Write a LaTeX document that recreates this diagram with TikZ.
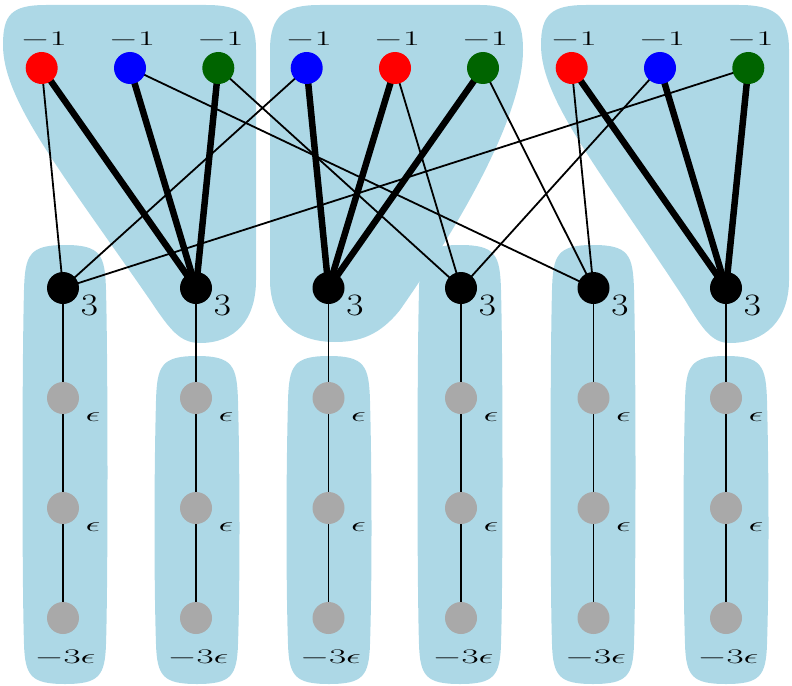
\documentclass[tikz,border=0pt]{standalone}
\usepackage{graphicx}
\usetikzlibrary{calc}
\definecolor{blobblue}{RGB}{173,216,230}
\definecolor{dgreen}{RGB}{0,100,0}
\definecolor{grayn}{RGB}{169,169,169}
\pgfdeclarelayer{bg}
\pgfdeclarelayer{edges}
\pgfsetlayers{bg,edges,main}
\newcommand\smlab[1]{\scalebox{1.8}[1]{\fontsize{20}{24}\selectfont$#1$}}
\newcommand\biglab[1]{\scalebox{1.8}[1.5]{\fontsize{20}{24}\selectfont$#1$}}
\newcommand\tailblob[3]{%
  \begin{scope}[shift={(#1,0)}]
  \fill[blobblue] (0,#2) .. controls (-36,#2) and (-40,{#2+10}) .. (-41,{#2+45})
    .. controls (-43,{#2+120}) and (-43,{#3-100}) .. (-41,{#3-40})
    .. controls (-40,{#3-8}) and (-34,#3) .. (0,#3)
    .. controls (34,#3) and (40,{#3-8}) .. (41,{#3-40})
    .. controls (43,{#3-100}) and (43,{#2+120}) .. (41,{#2+45})
    .. controls (40,{#2+10}) and (36,#2) .. (0,#2) -- cycle;
  \end{scope}}
\begin{document}
\begin{tikzpicture}[x=1pt,y=-1pt,
  vtx/.style={circle,inner sep=0pt,minimum size=32pt},
  heavy/.style={line width=6.5pt},
  light/.style={line width=1.8pt},
  lab/.style={inner sep=0pt}]
\useasboundingbox (0,0) rectangle (792,685);

% top vertices
\node[vtx,fill=red]    (r1) at (41.7,68) {};
\node[vtx,fill=blue]   (b1) at (130,68) {};
\node[vtx,fill=dgreen] (g1) at (218.3,68) {};
\node[vtx,fill=blue]   (b2) at (306.7,68) {};
\node[vtx,fill=red]    (r2) at (395,68) {};
\node[vtx,fill=dgreen] (g2) at (483,68) {};
\node[vtx,fill=red]    (r3) at (571.7,68) {};
\node[vtx,fill=blue]   (b3) at (660,68) {};
\node[vtx,fill=dgreen] (g3) at (748.3,68) {};
\foreach \n in {r1,b1,g1,b2,r2,g2,r3,b3,g3}
  \node[lab] (l\n) at ([shift={(2,-28)}]\n) {\smlab{-1}};

% black and gray columns
\foreach \i/\x in {1/63,2/196,3/328.5,4/461,5/593.5,6/726} {
  \node[vtx,fill=black] (k\i) at (\x,288) {};
  \node[vtx,fill=grayn] (s\i a) at (\x,398) {};
  \node[vtx,fill=grayn] (s\i b) at (\x,508) {};
  \node[vtx,fill=grayn] (s\i c) at (\x,618) {};
  \node[lab] (lk\i) at ([shift={(26.5,17)}]k\i) {\biglab{3}};
  \node[lab] (ls\i a) at ([shift={(30,19)}]s\i a) {\smlab{\epsilon}};
  \node[lab] (ls\i b) at ([shift={(30,19)}]s\i b) {\smlab{\epsilon}};
  \node[lab] (ls\i c) at ([shift={(2,39.5)}]s\i c) {\smlab{-3\epsilon}};
  \begin{pgfonlayer}{edges}
    \draw[light] (k\i.center) -- (s\i a.center) -- (s\i b.center) -- (s\i c.center);
  \end{pgfonlayer}
}

\begin{pgfonlayer}{edges}
  \draw[heavy] (r1.center) -- (k2.center);
  \draw[heavy] (b1.center) -- (k2.center);
  \draw[heavy] (g1.center) -- (k2.center);
  \draw[heavy] (b2.center) -- (k3.center);
  \draw[heavy] (r2.center) -- (k3.center);
  \draw[heavy] (g2.center) -- (k3.center);
  \draw[heavy] (r3.center) -- (k6.center);
  \draw[heavy] (b3.center) -- (k6.center);
  \draw[heavy] (g3.center) -- (k6.center);
  \draw[light] (r1.center) -- (k1.center);
  \draw[light] (b2.center) -- (k1.center);
  \draw[light] (g3.center) -- (k1.center);
  \draw[light] (g1.center) -- (k4.center);
  \draw[light] (r2.center) -- (k4.center);
  \draw[light] (b3.center) -- (k4.center);
  \draw[light] (b1.center) -- (k5.center);
  \draw[light] (g2.center) -- (k5.center);
  \draw[light] (r3.center) -- (k5.center);
\end{pgfonlayer}

\begin{pgfonlayer}{bg}
  % top blobs
  \fill[blobblue] (3,45) .. controls (3,100) and (60,170) .. (150,300)
    .. controls (170,330) and (180,343) .. (200,343)
    .. controls (235,343) and (256,320) .. (256,280) -- (256,50)
    .. controls (256,15) and (241,5) .. (206,5) -- (46,5)
    .. controls (11,5) and (3,15) .. (3,45) -- cycle;
  \fill[blobblue] (270,50) .. controls (270,15) and (285,5) .. (320,5) -- (480,5)
    .. controls (515,5) and (523,20) .. (523,50)
    .. controls (523,110) and (470,210) .. (400,310)
    .. controls (380,335) and (360,342) .. (335,342)
    .. controls (295,342) and (270,320) .. (270,280) -- cycle;
  \fill[blobblue] (541,45) .. controls (541,100) and (600,170) .. (685,300)
    .. controls (703,330) and (712,343) .. (730,343)
    .. controls (765,343) and (789,320) .. (789,280) -- (789,50)
    .. controls (789,15) and (774,5) .. (739,5) -- (586,5)
    .. controls (551,5) and (541,15) .. (541,45) -- cycle;
  % column blobs
  \tailblob{65}{245}{684}
  \tailblob{197}{356}{684}
  \tailblob{329}{356}{684}
  \tailblob{460}{245}{684}
  \tailblob{593}{245}{684}
  \tailblob{726}{356}{684}
\end{pgfonlayer}
\end{tikzpicture}
\end{document}
